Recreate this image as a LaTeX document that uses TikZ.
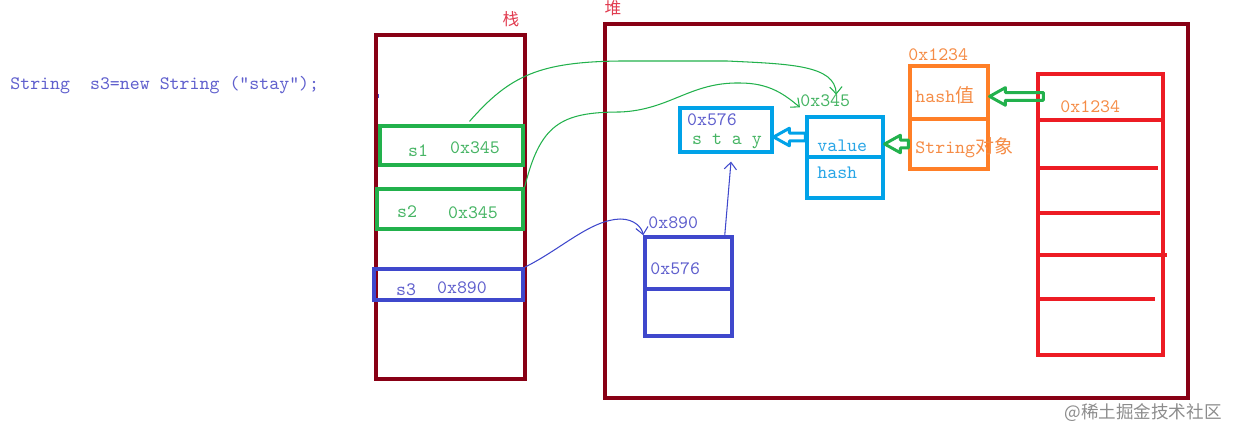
\documentclass[tikz,border=0pt]{standalone}
\usepackage{fontspec}
\newfontfamily\zhfont{Noto Sans CJK SC}
\usetikzlibrary{arrows.meta,calc,fit}

\definecolor{framered}{RGB}{136,0,21}
\definecolor{linegreen}{RGB}{34,177,76}
\definecolor{txtgreen}{RGB}{70,180,100}
\definecolor{lineblue}{RGB}{63,72,204}
\definecolor{txtblue}{RGB}{95,95,205}
\definecolor{linecyan}{RGB}{0,162,232}
\definecolor{txtcyan}{RGB}{40,165,230}
\definecolor{lineorange}{RGB}{255,127,39}
\definecolor{txtorange}{RGB}{245,140,70}
\definecolor{linered}{RGB}{237,28,36}
\definecolor{markred}{RGB}{225,60,80}

\begin{document}
\begin{tikzpicture}[x=0.02cm, y=-0.02cm,
    frame/.style={draw=framered, line width=2.2pt, inner sep=0pt},
    cell/.style={line width=1.8pt, inner sep=0pt},
    txt/.style={inner sep=0pt, font=\ttfamily\fontsize{10.8}{12}\selectfont},
    zh/.style={inner sep=0pt, font=\zhfont\fontsize{9.5}{11}\selectfont},
    ref/.style={line width=0.6pt, -{Straight Barb[length=4pt,width=7pt]}},
    hollowarrow/.style={draw, line width=1.7pt, line join=round,
      to path={let \p1=(\tikztostart), \p2=(\tikztotarget) in
        (\x1,\y1+2.2pt) -- (\x2+9pt,\y1+2.2pt) -- (\x2+9pt,\y1+5pt) -- (\x2,\y1)
        -- (\x2+9pt,\y1-5pt) -- (\x2+9pt,\y1-2.2pt) -- (\x1,\y1-2.2pt) -- cycle}}]
    \useasboundingbox (0,0) rectangle (1240,440);

    % Code line
    \node[txt, text=txtblue, anchor=west] (code) at (10,85) {String\ \ s3=new String (”stay”);};
    \node[fill=lineblue, minimum size=2.5pt, inner sep=0pt] (dot) at (377,96) {};

    % Stack and heap
    \node[frame, fit={(376,35) (525,379)}] (stack) {};
    \node[frame, fit={(605,24) (1188,398)}] (heap) {};
    \node[zh, text=markred] (stacklbl) at (511,19) {栈};
    \node[zh, text=markred] (heaplbl) at (613,8) {堆};

    % Stack slots
    \node[cell, draw=linegreen, fit={(380,126) (523,165)}] (s1box) {};
    \node[txt, text=txtgreen] (s1name) at (418,151) {s1};
    \node[txt, text=txtgreen] (s1val) at (475,148) {0x345};
    \node[cell, draw=linegreen, fit={(377,189) (523,229)}] (s2box) {};
    \node[txt, text=txtgreen] (s2name) at (407,212) {s2};
    \node[txt, text=txtgreen] (s2val) at (473,213) {0x345};
    \node[cell, draw=lineblue, line width=2.2pt, fit={(374,269) (523,300)}] (s3box) {};
    \node[txt, text=txtblue] (s3name) at (406,290) {s3};
    \node[txt, text=txtblue] (s3val) at (462,288) {0x890};

    % Heap objects
    \node[cell, draw=lineblue, line width=2pt, fit={(645,237) (732,289)}] (obj890) {};
    \node[cell, draw=lineblue, line width=2pt, fit={(645,289) (732,336)}] (obj890b) {};
    \node[txt, text=txtblue, anchor=west] (addr890) at (648,223) {0x890};
    \node[txt, text=txtblue, anchor=west] (ptr576) at (650,269) {0x576};

    \node[cell, draw=linecyan, fit={(680,108) (772,152)}] (staybox) {};
    \node[txt, text=txtblue] (addr576) at (712,120) {0x576};
    \node[txt, text=txtgreen] (chars) at (727,141) {s t a y};

    \node[cell, draw=linecyan, fit={(807,117) (883,157)}] (valuecell) {};
    \node[cell, draw=linecyan, fit={(807,157) (883,198)}] (hashfield) {};
    \node[txt, text=txtcyan, anchor=west] (valuetxt) at (817,146) {value};
    \node[txt, text=txtcyan, anchor=west] (hashtxt) at (817,173) {hash};
    \node[txt, text=txtgreen, anchor=west] (addr345) at (800,101) {0x345};

    \node[cell, draw=lineorange, fit={(910,66) (988,119)}] (hashcell) {};
    \node[cell, draw=lineorange, fit={(910,119) (988,169)}] (objcell) {};
    \node[txt, text=txtorange, anchor=west] (addr1234) at (908,55) {0x1234};
    \node[txt, text=txtorange, anchor=west] (hashval) at (915,95) {hash{\zhfont 值}};
    \node[txt, text=txtorange, anchor=west] (strobj) at (915,148) {String{\zhfont 对象}};

    % String table
    \node[cell, draw=linered, fit={(1038,74) (1163,355)}] (tbl) {};
    \foreach \yy/\xe in {120/1163, 168/1158, 213/1160, 255/1167, 299/1155}
        \draw[linered, line width=1.8pt] (tbl.west |- 0,\yy) -- (\xe,\yy);
    \node[txt, text=txtorange, anchor=west] (tbladdr) at (1060,107) {0x1234};

    % References
    \draw[ref, linegreen] ($(s1box.north)+(18,-3)$) .. controls (510,75) and (540,62) .. (620,61)
        -- (727,61) .. controls (790,64) and (835,65) .. ($(addr345.north)+(11,0)$);
    \draw[ref, linegreen] (s2box.north east) .. controls (540,125) and (560,112) .. (620,112)
        .. controls (670,110) and (690,82) .. (740,83) .. controls (770,83) and (785,95) .. (addr345.south west);
    \draw[ref, lineblue] (s3box.north east) .. controls (560,250) and (590,220) .. (620,219)
        .. controls (635,219) and (642,228) .. (obj890.north west);
    \draw[ref, lineblue] ($(obj890.north east)+(-9,0)$) -- ($(staybox.south)+(5,8)$);

    % Hollow arrows
    \path[hollowarrow, draw=linegreen] ($(tbl.north west)+(7,24)$) to (hashcell.east);
    \path[hollowarrow, draw=linegreen] (objcell.west) to (valuecell.east);
    \path[hollowarrow, draw=linecyan] (valuecell.west) to (staybox.east);

    \node[zh, text=black!45, font=\zhfont\fontsize{10}{12}\selectfont] (mark) at (1143,413) {@稀土掘金技术社区};
\end{tikzpicture}
\end{document}
